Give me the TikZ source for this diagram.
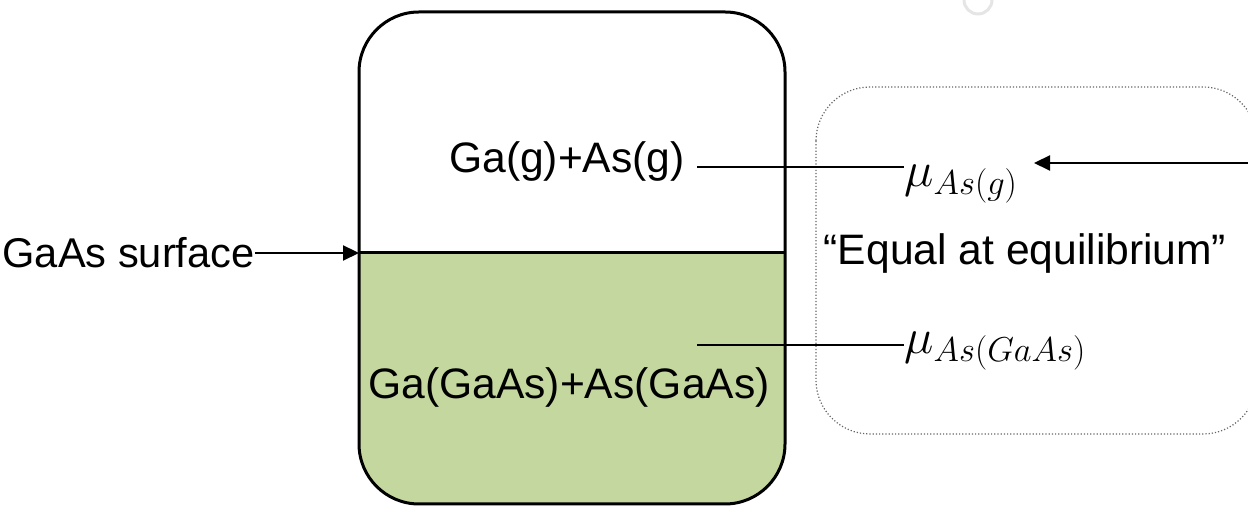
\documentclass[tikz,border=0pt]{standalone}
\usepackage{fontspec}
\setmainfont{Liberation Sans}
\usetikzlibrary{arrows.meta}
\definecolor{solidgreen}{RGB}{196,215,158}
\begin{document}
\begin{tikzpicture}[x=0.5pt,y=-0.5pt,
  lbl/.style={font=\fontsize{21.3}{25}\selectfont, inner sep=0pt},
  mlbl/.style={font=\fontsize{23.5}{28}\selectfont, inner sep=0pt, anchor=west},
  conn/.style={line width=1.1pt},
  tipped/.style={conn, -{Triangle[length=8pt,width=7.5pt]}}]
\useasboundingbox (0,0) rectangle (1248,506);

% faint round mark at the top edge
\draw[black!10, line width=1.5pt] (978,0) circle[radius=14];

% container: gas phase above, solid phase below
\begin{scope}
  \clip[rounded corners=30pt] (359,12) rectangle (785,504);
  \fill[solidgreen] (359,253) rectangle (785,504);
\end{scope}
\draw[line width=1.5pt, rounded corners=30pt] (359,12) rectangle (785,504);
\draw[line width=1.5pt] (359,253) coordinate (surf) -- (785,253);

% dotted frame on the right
\begin{scope}
  \clip (800,70) rectangle (1248,450);
  \draw[black!60, densely dotted, line width=0.6pt, rounded corners=27pt] (816,87) rectangle (1257,434);
\end{scope}

% texts
\node[lbl] (gas) at (567,161) {Ga(g)+As(g)};
\node[lbl] (solid) at (569,387) {Ga(GaAs)+As(GaAs)};
\node[lbl, font=\fontsize{20.8}{25}\selectfont, anchor=east] (surflbl) at (255,253) {GaAs surface};
\node[lbl] (eq) at (1025,253) {“Equal at equilibrium”};

\node[mlbl] (mug) at (904,184) {$\mu_{As(g)}$};
\node[mlbl] (mus) at (904,351) {$\mu_{As(GaAs)}$};

% connectors
\coordinate (gline) at (697,167);
\coordinate (sline) at (697,345);
\draw[conn] (gline) -- (gline -| mug.west);
\draw[conn] (sline) -- (sline -| mus.west);
\draw[tipped] (surflbl.east) -- (surf);
\coordinate (farright) at (1248,163);
\draw[tipped] (farright) -- (1034,163);
\end{tikzpicture}
\end{document}
